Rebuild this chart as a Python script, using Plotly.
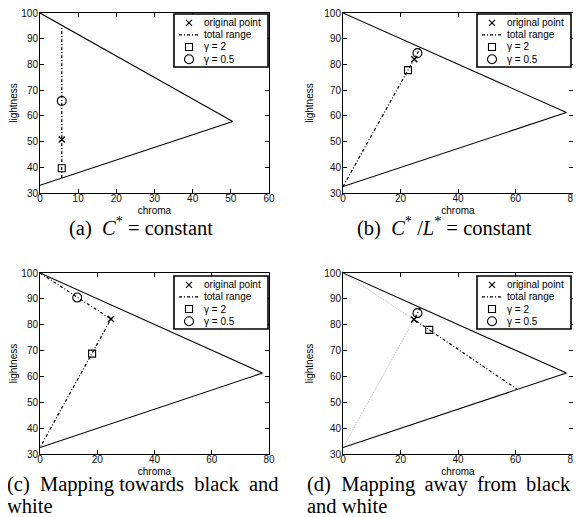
import plotly.graph_objects as go

# the page body adds an 8px margin, so the figure is 8px smaller than the window
OFF = 8
W, H = 581 - OFF, 517 - OFF

# ---------------- data ----------------
# panel (a): C* = constant
gamut_a_C = [0, 50.5, 0]
gamut_a_L = [100, 57.8, 33.0]
orig_a = (5.7, 50.8)
g2_a = (5.7, 39.6)
g05_a = (5.7, 65.8)
range_a_C = [5.7, 5.7]
range_a_L = [35.8, 95.3]

# panels (b)-(d) share the same gamut
gamut_C = [0, 77.7, 0]
gamut_L = [100, 61.3, 32.5]

# panel (b): C*/L* = constant
orig_b = (24.8, 82.0)
g2_b = (22.6, 77.8)
g05_b = (25.9, 84.4)
range_b_C = [0, 27.0]
range_b_L = [32.5, 86.6]

# panel (c): mapping towards black and white
orig_c = (24.8, 82.2)
g2_c = (18.2, 68.8)
g05_c = (13.0, 90.5)
range_c_C = [0, 24.8, 0]
range_c_L = [100, 82.2, 32.5]

# panel (d): mapping away from black and white
orig_d = (24.7, 82.0)
g2_d = (30.0, 78.0)
g05_d = (25.9, 84.5)
range_d_C = [26.9, 24.7, 60.5]
range_d_L = [86.6, 82.0, 55.1]
guide_d_C = [0, 24.7, 0]
guide_d_L = [100, 82.0, 32.5]

x_ticks_a = [0, 10, 20, 30, 40, 50, 60]
x_ticks = [0, 20, 40, 60, 80]
y_ticks = [30, 40, 50, 60, 70, 80, 90, 100]

legend_labels = ["original point", "total range", "\u03b3 = 2", "\u03b3 = 0.5"]

captions = {
    "a": "(a)  <i>C</i><sup>*</sup> = constant",
    "b": "(b)  <i>C</i><sup>*</sup> /<i>L</i><sup>*</sup> = constant",
    "c1": "(c)  Mapping towards  black  and",
    "c2": "white",
    "d1": "(d)  Mapping\u2009 away\u2009 from\u2009 black",
    "d2": "and white",
}

# ---------------- layout helpers (pixel positions in the window) ----------------
def fx(px):
    return (px - OFF) / W

def fy(py):
    return 1 - (py - OFF) / H

SANS = "Liberation Sans, Arial, Helvetica, sans-serif"
SERIF = "Liberation Serif, Times New Roman, serif"
DASHDOT = "3px,2px,1px,2px"

# plot boxes in window pixels: (left, right, top, bottom)
boxes = {
    1: (40, 269, 13, 193),
    2: (343, 573, 13, 193),
    3: (40, 269, 273, 454),
    4: (343, 573, 273, 454),
}
# legend boxes in window pixels: (left, top)
leg_boxes = {
    1: (174, 14),
    2: (477, 14),
    3: (174, 276),
    4: (477, 276),
}
LEG_W, LEG_H = 94, 53

fig = go.Figure()

def ax_name(i, letter):
    return letter if i == 1 else f"{letter}{i}"

def add_panel(i, gC, gL, rC, rL, orig, g2, g05, guide=None):
    xa, ya = ax_name(i, "x"), ax_name(i, "y")
    fig.add_trace(go.Scatter(x=gC, y=gL, mode="lines", xaxis=xa, yaxis=ya,
                             line=dict(color="black", width=1.1), showlegend=False))
    if guide is not None:
        fig.add_trace(go.Scatter(x=guide[0], y=guide[1], mode="lines", xaxis=xa, yaxis=ya,
                                 line=dict(color="#b8b8b8", width=1, dash="1px,1px"),
                                 showlegend=False))
    fig.add_trace(go.Scatter(x=rC, y=rL, mode="lines", xaxis=xa, yaxis=ya,
                             line=dict(color="black", width=1.2, dash=DASHDOT),
                             showlegend=False))
    fig.add_trace(go.Scatter(x=[orig[0]], y=[orig[1]], mode="markers", xaxis=xa, yaxis=ya,
                             marker=dict(symbol="x-thin-open", size=6, color="black",
                                         line=dict(width=1.4, color="black")),
                             showlegend=False))
    fig.add_trace(go.Scatter(x=[g2[0]], y=[g2[1]], mode="markers", xaxis=xa, yaxis=ya,
                             marker=dict(symbol="square-open", size=7, color="black",
                                         line=dict(width=1.1, color="black")),
                             showlegend=False))
    fig.add_trace(go.Scatter(x=[g05[0]], y=[g05[1]], mode="markers", xaxis=xa, yaxis=ya,
                             marker=dict(symbol="circle-open", size=9, color="black",
                                         line=dict(width=1.1, color="black")),
                             showlegend=False))

add_panel(1, gamut_a_C, gamut_a_L, range_a_C, range_a_L, orig_a, g2_a, g05_a)
add_panel(2, gamut_C, gamut_L, range_b_C, range_b_L, orig_b, g2_b, g05_b)
add_panel(3, gamut_C, gamut_L, range_c_C, range_c_L, orig_c, g2_c, g05_c)
add_panel(4, gamut_C, gamut_L, range_d_C, range_d_L, orig_d, g2_d, g05_d,
          guide=(guide_d_C, guide_d_L))

layout = dict(width=W, height=H, margin=dict(l=0, r=0, t=0, b=0, autoexpand=False),
              template="none",
              paper_bgcolor="white", plot_bgcolor="white", showlegend=False,
              font=dict(family=SANS, size=10, color="black"))

axis_common = dict(showgrid=False, zeroline=False, ticks="inside", ticklen=4,
                   tickwidth=0.8, tickcolor="black", mirror="ticks", showline=True,
                   linecolor="black", linewidth=1, automargin=False,
                   ticklabeloverflow="allow",
                   tickfont=dict(family=SANS, size=10, color="#111"))

annotations = []
shapes = []

for i, (l, r, t, b) in boxes.items():
    xa, ya = ax_name(i, "xaxis"), ax_name(i, "yaxis")
    xr = [0, 60] if i == 1 else [0, 80]
    xt = x_ticks_a if i == 1 else x_ticks
    layout[xa] = dict(axis_common, domain=[fx(l), fx(r)], range=xr, tickvals=xt,
                      anchor=ax_name(i, "y"), ticklabelstandoff=-4,
                      title=dict(text="chroma", font=dict(family=SANS, size=10), standoff=3))
    layout[ya] = dict(axis_common, domain=[fy(b), fy(t)], range=[30, 100], tickvals=y_ticks,
                      anchor=ax_name(i, "x"), ticklabelstandoff=-1,
                      title=dict(text="lightness", font=dict(family=SANS, size=10), standoff=8))

    # legend drawn in its own overlay axes (pixel-like coordinates)
    j = i + 4
    ll, lt = leg_boxes[i]
    lxa, lya = f"xaxis{j}", f"yaxis{j}"
    layout[lxa] = dict(domain=[fx(ll), fx(ll + LEG_W)], range=[0, LEG_W], visible=False,
                       anchor=f"y{j}", fixedrange=True, automargin=False)
    layout[lya] = dict(domain=[fy(lt + LEG_H), fy(lt)], range=[LEG_H, 0], visible=False,
                       anchor=f"x{j}", fixedrange=True, automargin=False)
    rows = [8.8, 20.9, 33.0, 45.2]
    sx, tx = 15, 28
    xr_, yr_ = f"x{j}", f"y{j}"
    fig.add_trace(go.Scatter(x=[sx], y=[rows[0]], mode="markers", xaxis=xr_, yaxis=yr_,
                             marker=dict(symbol="x-thin-open", size=6, color="black",
                                         line=dict(width=1.2, color="black")),
                             showlegend=False, hoverinfo="skip"))
    fig.add_trace(go.Scatter(x=[sx - 10, sx + 10], y=[rows[1], rows[1]], mode="lines",
                             xaxis=xr_, yaxis=yr_,
                             line=dict(color="black", width=1.2, dash=DASHDOT),
                             showlegend=False, hoverinfo="skip"))
    fig.add_trace(go.Scatter(x=[sx], y=[rows[2]], mode="markers", xaxis=xr_, yaxis=yr_,
                             marker=dict(symbol="square-open", size=7, color="black",
                                         line=dict(width=1.1, color="black")),
                             showlegend=False, hoverinfo="skip"))
    fig.add_trace(go.Scatter(x=[sx], y=[rows[3]], mode="markers", xaxis=xr_, yaxis=yr_,
                             marker=dict(symbol="circle-open", size=9, color="black",
                                         line=dict(width=1.1, color="black")),
                             showlegend=False, hoverinfo="skip"))
    for k, lab in enumerate(legend_labels):
        annotations.append(dict(x=tx, y=rows[k], xref=xr_, yref=yr_, text=lab,
                                showarrow=False, xanchor="left", yanchor="middle",
                                font=dict(family=SANS, size=10, color="black")))
    shapes.append(dict(type="rect", xref=f"x{j} domain", yref=f"y{j} domain",
                       x0=0, x1=1, y0=0, y1=1, line=dict(color="black", width=1.6)))

# captions
cap_font = dict(family=SERIF, size=20.5, color="black")
annotations.append(dict(x=fx(141), y=fy(226), xref="paper", yref="paper", text=captions["a"],
                        showarrow=False, xanchor="center", yanchor="middle", font=cap_font))
annotations.append(dict(x=fx(444), y=fy(226), xref="paper", yref="paper", text=captions["b"],
                        showarrow=False, xanchor="center", yanchor="middle", font=cap_font))
annotations.append(dict(x=fx(5), y=fy(484), xref="paper", yref="paper", text=captions["c1"],
                        showarrow=False, xanchor="left", yanchor="middle", font=cap_font))
annotations.append(dict(x=fx(5), y=fy(506), xref="paper", yref="paper", text=captions["c2"],
                        showarrow=False, xanchor="left", yanchor="middle", font=cap_font))
annotations.append(dict(x=fx(305), y=fy(484), xref="paper", yref="paper", text=captions["d1"],
                        showarrow=False, xanchor="left", yanchor="middle", font=cap_font))
annotations.append(dict(x=fx(305), y=fy(506), xref="paper", yref="paper", text=captions["d2"],
                        showarrow=False, xanchor="left", yanchor="middle", font=cap_font))

layout["annotations"] = annotations
layout["shapes"] = shapes
fig.update_layout(**layout)

fig.write_html("out.html")
